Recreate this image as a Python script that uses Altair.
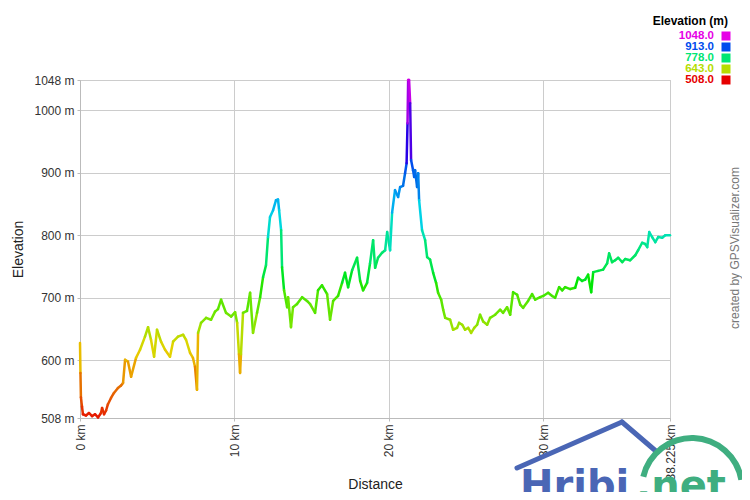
import altair as alt
import pandas as pd

# ---- data ----
dist_km = [0.00, 0.03, 0.06, 0.13, 0.19, 0.39, 0.58, 0.78, 0.97, 1.17, 1.36, 1.43, 1.56, 1.69, 1.81,
           2.01, 2.20, 2.46, 2.66, 2.79, 2.92, 3.11, 3.31, 3.63, 3.89, 4.21, 4.41, 4.60, 4.80, 4.99,
           5.25, 5.51, 5.83, 6.03, 6.35, 6.68, 6.87, 7.13, 7.32, 7.45, 7.58, 7.65, 7.84, 8.17, 8.49,
           8.75, 8.94, 9.14, 9.46, 9.79, 10.05, 10.18, 10.30, 10.37, 10.43, 10.56, 10.82, 11.02, 11.21,
           11.47, 11.67, 11.86, 12.05, 12.18, 12.31, 12.51, 12.70, 12.83, 12.90, 13.03, 13.09, 13.22,
           13.42, 13.48, 13.67, 13.80, 14.06, 14.39, 14.71, 14.91, 15.23, 15.42, 15.68, 16.01, 16.20,
           16.40, 16.72, 16.98, 17.17, 17.37, 17.63, 17.95, 18.15, 18.34, 18.60, 18.79, 18.99, 19.12,
           19.31, 19.57, 19.77, 19.90, 20.09, 20.22, 20.41, 20.61, 20.74, 20.93, 21.06, 21.16, 21.22,
           21.26, 21.32, 21.39, 21.45, 21.58, 21.65, 21.71, 21.84, 21.91, 21.97, 22.16, 22.36, 22.49,
           22.68, 22.88, 23.07, 23.20, 23.40, 23.53, 23.66, 23.98, 24.17, 24.43, 24.56, 24.76, 24.95,
           25.15, 25.34, 25.54, 25.73, 25.92, 26.12, 26.38, 26.57, 26.90, 27.22, 27.41, 27.67, 27.87,
           28.06, 28.32, 28.52, 28.71, 29.03, 29.29, 29.49, 29.81, 30.01, 30.33, 30.59, 30.78, 31.04,
           31.24, 31.43, 31.76, 32.08, 32.27, 32.53, 32.73, 32.92, 33.12, 33.25, 33.57, 33.89, 34.15,
           34.28, 34.47, 34.67, 34.87, 35.13, 35.32, 35.64, 35.97, 36.16, 36.42, 36.62, 36.75, 36.88,
           37.07, 37.27, 37.46, 37.72, 37.92, 38.225]
elev_m = [628, 580, 541, 526, 514, 512, 516, 511, 514, 509, 516, 524, 514, 520, 530,
          540, 548, 556, 560, 564, 601, 598, 574, 604, 617, 638, 653, 633, 606, 649,
          630, 617, 606, 630, 638, 641, 633, 612, 604, 590, 553, 644, 660, 668, 665,
          678, 682, 697, 676, 670, 677, 660, 610, 580, 610, 676, 679, 708, 644,
          676, 701, 733, 752, 797, 829, 840, 856, 857, 840, 808, 749, 712,
          685, 701, 653, 685, 690, 701, 695, 690, 676, 712, 720, 706, 665,
          695, 703, 724, 740, 717, 744, 764, 727, 712, 724, 755, 792, 748,
          764, 772, 776, 805, 776, 836, 872, 861, 877, 879, 899, 915, 979,
          1048, 1048, 1011, 920, 904, 893, 904, 877, 899, 856, 808, 792, 765,
          761, 740, 724, 708, 697, 681, 668, 665, 649, 652, 660, 657, 649,
          652, 644, 652, 657, 673, 662, 657, 668, 673, 681, 676, 685, 673,
          709, 705, 689, 684, 695, 706, 697, 701, 703, 708, 703, 700, 717,
          712, 717, 714, 716, 732, 727, 729, 737, 709, 741, 743, 745, 755,
          771, 757, 760, 764, 757, 762, 760, 768, 776, 788, 786, 781, 805,
          797, 789, 797, 796, 800, 800]

x_ticks = [0, 10, 20, 30, 38.225]
y_ticks = [508, 600, 700, 800, 900, 1000, 1048]
legend_values = [1048.0, 913.0, 778.0, 643.0, 508.0]
legend_labels = ["1048.0", "913.0", "778.0", "643.0", "508.0"]

# colour gradient (hue 0 -> 300 over the elevation range)
color_stops = [508, 562, 616, 670, 724, 778, 832, 886, 940, 994, 1048]
color_range = ["#e60000", "#e67300", "#e6d200", "#73e600", "#00e600", "#00e673",
               "#00d2e6", "#0073e6", "#0000e6", "#7300e6", "#e600e6"]

FONT = "Liberation Sans"

df = pd.DataFrame({"d": dist_km, "e": elev_m})
color_scale = alt.Scale(domain=color_stops, range=color_range)

x_scale = alt.Scale(domain=[0, 38.225], nice=False, zero=False)
y_scale = alt.Scale(domain=[508, 1048], nice=False, zero=False)

line = alt.Chart(df).transform_window(
    window=[alt.WindowFieldDef(op="lead", field="d", **{"as": "d2"}),
            alt.WindowFieldDef(op="lead", field="e", **{"as": "e2"})],
    sort=[alt.SortField("d")],
).transform_filter("isValid(datum.d2)").transform_calculate(
    em="(datum.e + datum.e2) / 2"
).mark_rule(strokeWidth=2.5, strokeCap="round").encode(
    x=alt.X("d:Q", scale=x_scale, axis=alt.Axis(
        values=x_ticks, labelExpr="datum.value + ' km'", labelAngle=270,
        labelAlign="right", labelBaseline="middle", labelPadding=3,
        labelOverlap=False, labelBound=False, labelFlush=False,
        title="Distance", titleX=295, titleY=66, titleBaseline="middle",
        titleFontSize=14, titleFontWeight="normal",
    )),
    x2="d2:Q",
    y=alt.Y("e:Q", scale=y_scale, axis=alt.Axis(
        values=y_ticks, labelExpr="datum.value + ' m'", labelPadding=3,
        labelOverlap=False, labelFlush=False,
        title="Elevation", titleX=-62, titleY=169, titleBaseline="middle",
        titleFontSize=14, titleFontWeight="normal",
    )),
    y2="e2:Q",
    color=alt.Color("em:Q", scale=color_scale, legend=None),
)

layers = [line]

# custom legend
one = pd.DataFrame({"a": [0]})
layers.append(alt.Chart(one).mark_text(
    text="Elevation (m)", font=FONT, fontSize=12, fontWeight="bold",
    align="right", baseline="middle", color="#000000",
).encode(x=alt.value(648), y=alt.value(-59)))

for i, (v, lbl) in enumerate(zip(legend_values, legend_labels)):
    ld = pd.DataFrame({"v": [v], "lbl": [lbl]})
    py = -44 + i * 11
    layers.append(alt.Chart(ld).mark_text(
        font=FONT, fontSize=11.5, fontWeight="bold", align="right", baseline="middle",
    ).encode(x=alt.value(634), y=alt.value(py), text="lbl:N",
             color=alt.Color("v:Q", scale=color_scale, legend=None)))
    layers.append(alt.Chart(ld).mark_square(size=81, opacity=1, filled=True).encode(
        x=alt.value(646), y=alt.value(py),
        color=alt.Color("v:Q", scale=color_scale, legend=None)))

# credit
layers.append(alt.Chart(one).mark_text(
    text="created by GPSVisualizer.com", font=FONT, fontSize=12, angle=270,
    align="center", baseline="middle", color="#777777",
).encode(x=alt.value(655), y=alt.value(168)))

# Hribi.net watermark
BLUE = "#4a66b5"
GREEN = "#3fae80"
dy = -5
layers.append(alt.Chart(one).mark_rule(strokeWidth=5, color=BLUE, strokeCap="round").encode(
    x=alt.value(437), y=alt.value(393 + dy), x2=alt.value(542), y2=alt.value(347 + dy)))
layers.append(alt.Chart(one).mark_rule(strokeWidth=5, color=BLUE, strokeCap="round").encode(
    x=alt.value(542), y=alt.value(347 + dy), x2=alt.value(577), y2=alt.value(377 + dy)))
layers.append(alt.Chart(one).mark_arc(
    radius=53, radius2=47, theta=4.94, theta2=7.69, color=GREEN,
).encode(x=alt.value(612), y=alt.value(413 + dy)))
layers.append(alt.Chart(one).mark_text(
    text="Hribi", font="DejaVu Sans", fontSize=40, fontWeight="bold",
    align="left", baseline="alphabetic", color=BLUE,
).encode(x=alt.value(440), y=alt.value(424 + dy)))
layers.append(alt.Chart(one).mark_text(
    text=".net", font="DejaVu Sans", fontSize=40, fontWeight="bold",
    align="left", baseline="alphabetic", color=GREEN,
).encode(x=alt.value(556), y=alt.value(424 + dy)))

chart = alt.layer(*layers).properties(
    width=590, height=338,
    autosize=alt.AutoSizeParams(type="none"),
    padding={"left": 72, "top": 72, "right": 72, "bottom": 74},
    background="#ffffff",
).configure(font=FONT).configure_view(
    stroke="#c0c0c0", strokeWidth=1,
).configure_axis(
    labelFont=FONT, titleFont=FONT, labelFontSize=12, labelColor="#333333",
    titleColor="#222222", gridColor="#cccccc", gridWidth=1,
    domainColor="#bbbbbb", tickColor="#bbbbbb", tickSize=3,
)

chart.save("out.html", embed_options={"renderer": "svg", "actions": False})
